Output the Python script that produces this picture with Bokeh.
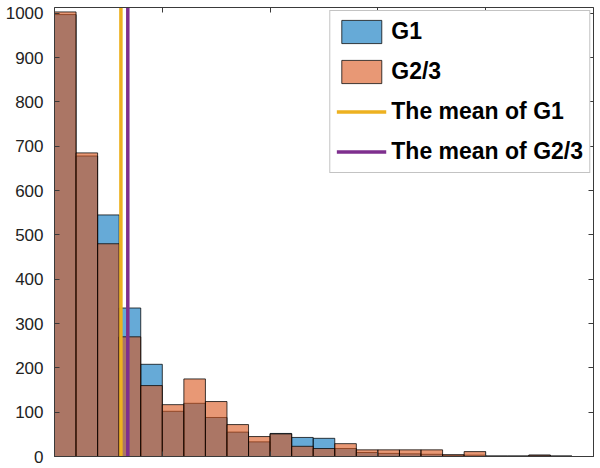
import math
from bokeh.plotting import figure
from bokeh.models import LinearAxis, Range1d, FixedTicker
from bokeh.embed import file_html
from bokeh.resources import INLINE

# ---- data ----
bin_edges = list(range(26))
g1_counts = [997, 678, 545, 335, 208, 102, 120, 88, 55, 33, 52, 43, 41,
             18, 9, 7, 6, 5, 3, 3, 1, 1, 3, 1, 0]
g2_counts = [1003, 685, 480, 270, 160, 117, 175, 124, 72, 45, 51, 23, 18,
             29, 15, 15, 15, 15, 4, 11, 1, 1, 3, 1, 0]
g1_mean = 3.08
g2_mean = 3.40
y_ticks = list(range(0, 1001, 100))
x_ticks = [0, 5, 10, 15, 20, 25]
labels = ["G1", "G2/3", "The mean of G1", "The mean of G2/3"]

BLUE = "#0072BD"
ORANGE = "#D95319"
YELLOW = "#EDB120"
PURPLE = "#7E2F8E"
AX = "#3a3a3a"
FONT = "Liberation Sans"

p = figure(width=600, height=468, output_backend="svg", toolbar_location=None,
           x_range=Range1d(0, 25), y_range=Range1d(0, 1013),
           min_border_left=54, min_border_right=7, min_border_top=7,
           min_border_bottom=12)
p.xgrid.visible = False
p.ygrid.visible = False
p.outline_line_color = None
p.background_fill_color = "white"

left = bin_edges[:-1]
right = bin_edges[1:]
p.quad(left=left, right=right, bottom=0, top=g1_counts,
       fill_color=BLUE, fill_alpha=0.6, line_color="black", line_alpha=0.75,
       line_width=1, legend_label=labels[0])
p.quad(left=left, right=right, bottom=0, top=g2_counts,
       fill_color=ORANGE, fill_alpha=0.6, line_color="black", line_alpha=0.75,
       line_width=1, legend_label=labels[1])
p.ray(x=[g1_mean], y=[0], length=0, angle=math.pi / 2, line_color=YELLOW,
      line_width=3.5, legend_label=labels[2])
p.ray(x=[g2_mean], y=[0], length=0, angle=math.pi / 2, line_color=PURPLE,
      line_width=3.5, legend_label=labels[3])

# axes: extra ones above and right (box with inward ticks)
p.add_layout(LinearAxis(), "above")
p.add_layout(LinearAxis(), "right")

for ax in list(p.xaxis) + list(p.yaxis):
    ax.axis_line_color = AX
    ax.axis_line_width = 1
    ax.major_tick_in = 5
    ax.major_tick_out = 0
    ax.minor_tick_in = 5
    ax.minor_tick_out = 0
    ax.major_tick_line_color = AX
    ax.minor_tick_line_color = AX
    ax.major_label_standoff = 0

# x axes and right axis: ticks only (as minor ticks, so no labels)
for ax in p.xaxis:
    ax.ticker = FixedTicker(ticks=[], minor_ticks=x_ticks)
right_axis = p.right[0]
right_axis.ticker = FixedTicker(ticks=[], minor_ticks=y_ticks)

left_axis = p.left[0]
left_axis.ticker = FixedTicker(ticks=y_ticks)
left_axis.major_label_text_font = FONT
left_axis.major_label_text_font_size = "17px"
left_axis.major_label_text_color = "#222222"
left_axis.major_label_standoff = 11

# legend
lg = p.legend[0]
lg.location = "top_right"
lg.margin = 3
lg.padding = 6
lg.spacing = 11
lg.glyph_width = 50
lg.glyph_height = 29
lg.label_standoff = 5
lg.label_text_font = FONT
lg.label_text_font_style = "bold"
lg.label_text_font_size = "23px"
lg.label_text_color = "black"
lg.border_line_color = "#888888"
lg.border_line_width = 1
lg.background_fill_color = "white"
lg.background_fill_alpha = 1.0

open("out.html", "w").write(file_html(p, INLINE))
